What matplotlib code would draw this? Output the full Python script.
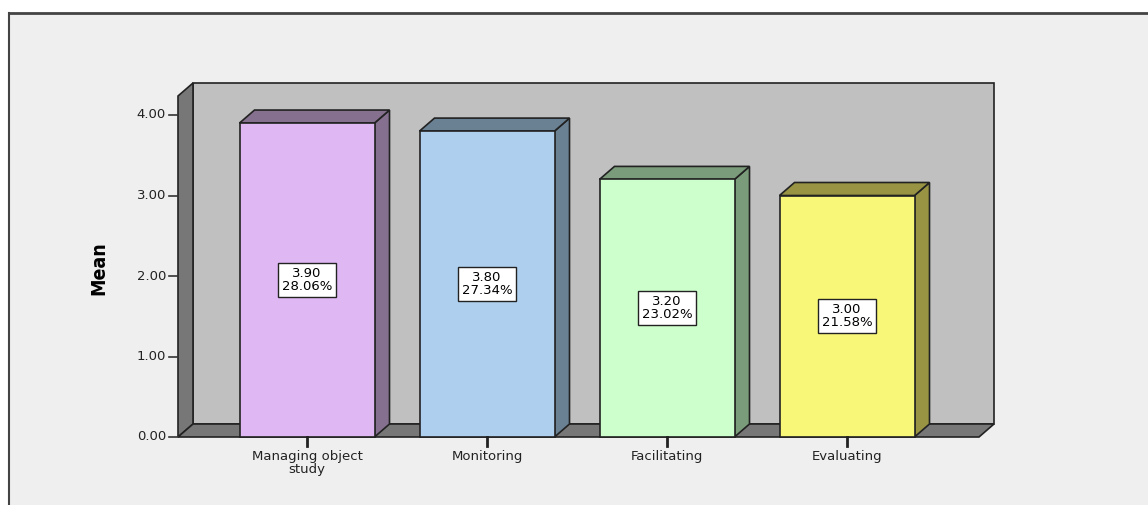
import matplotlib
matplotlib.use('Agg')
import matplotlib.pyplot as plt
from matplotlib.patches import Polygon, Rectangle

# data
categories = ['Managing object\nstudy', 'Monitoring', 'Facilitating', 'Evaluating']
means = [3.90, 3.80, 3.20, 3.00]
percents = ['28.06%', '27.34%', '23.02%', '21.58%']
yticks = [0.0, 1.0, 2.0, 3.0, 4.0]

front_colors = ['#dfb8f3', '#aed0ee', '#ccffcc', '#f9f777']
side_colors = ['#86708f', '#6a8194', '#7a9c7a', '#999444']

W, H = 1148, 505
fig = plt.figure(figsize=(W / 100, H / 100), dpi=100)
fig.patch.set_facecolor('white')

# outer panel (light grey, border on left/top only)
fig.add_artist(Rectangle((9 / W, 0), 1.0, (H - 13) / H, transform=fig.transFigure,
                         facecolor='#efefef', edgecolor='none', zorder=0))
fig.add_artist(plt.Line2D([9 / W, 9 / W], [0, (H - 13) / H], transform=fig.transFigure,
                          color='#444444', lw=1.5))
fig.add_artist(plt.Line2D([9 / W, 1.0], [(H - 13) / H, (H - 13) / H], transform=fig.transFigure,
                          color='#444444', lw=2))

# axes mapped so that category i sits at x=i, value 0 at pixel row 437
px_per_x, px_per_y = 180.0, 80.5
x0_px, y0_px = 307, 437
left_px, right_px, top_px = 178, 1000, 80
ax = fig.add_axes([left_px / W, (H - y0_px) / H, (right_px - left_px) / W, (y0_px - top_px) / H])
ax.set_xlim((left_px - x0_px) / px_per_x, (right_px - x0_px) / px_per_x)
ax.set_ylim(0, (y0_px - top_px) / px_per_y)
ax.axis('off')

dx, dy = 15 / px_per_x, 13 / px_per_y
xl = (178 - x0_px) / px_per_x
xr = (979 - x0_px) / px_per_x
ytop = (y0_px - 96) / px_per_y
edge = dict(edgecolor='#222222', linewidth=1.2, joinstyle='miter', clip_on=False)

# back wall, left wall, floor
ax.add_patch(Polygon([(xl + dx, dy), (xr + dx, dy), (xr + dx, ytop + dy), (xl + dx, ytop + dy)],
                     facecolor='#c0c0c0', **edge))
ax.add_patch(Polygon([(xl, 0), (xl, ytop), (xl + dx, ytop + dy), (xl + dx, dy)],
                     facecolor='#777777', **edge))
ax.add_patch(Polygon([(xl, 0), (xr, 0), (xr + dx, dy), (xl + dx, dy)],
                     facecolor='#777777', **edge))

# bars
bw = 135 / px_per_x
for i, (m, fc, sc) in enumerate(zip(means, front_colors, side_colors)):
    x1, x2 = i - bw / 2, i + bw / 2
    ax.add_patch(Polygon([(x2, 0), (x2 + dx, dy), (x2 + dx, m + dy), (x2, m)], facecolor=sc, **edge))
    ax.add_patch(Polygon([(x1, m), (x2, m), (x2 + dx, m + dy), (x1 + dx, m + dy)], facecolor=sc, **edge))
    ax.add_patch(Rectangle((x1, 0), bw, m, facecolor=fc, **edge))
    ax.text(i, m / 2, f'{m:.2f}\n{percents[i]}', ha='center', va='center', fontsize=9.5,
            linespacing=1.0, color='black',
            bbox=dict(boxstyle='square,pad=0.3', facecolor='white', edgecolor='#222222', lw=1))

# y axis ticks and labels
for t in yticks:
    ax.plot([xl - 9 / px_per_x, xl], [t, t], color='#333333', lw=1.2, clip_on=False)
    ax.text(xl - 12 / px_per_x, t, f'{t:.2f}', ha='right', va='center', fontsize=9.5, color='#222222')

# x ticks and labels
for i, c in enumerate(categories):
    ax.plot([i, i], [0, -9 / px_per_y], color='#222222', lw=2, clip_on=False)
    ax.text(i, -13 / px_per_y, c, ha='center', va='top', fontsize=9.5, linespacing=0.95, color='#222222')

fig.text(99 / W, 1 - 268 / H, 'Mean', rotation=90, ha='center', va='center', fontsize=14,
         fontweight='bold', fontstretch='condensed',
         family=['Liberation Sans Narrow', 'DejaVu Sans'])

fig.savefig('out.png', dpi=100)
